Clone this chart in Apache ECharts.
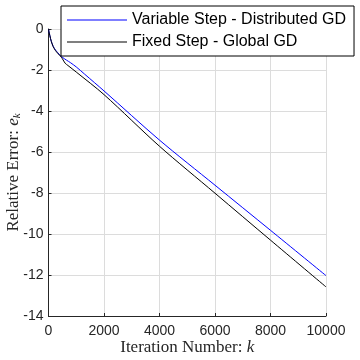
<!DOCTYPE html>
<html>
<head>
<meta charset="utf-8">
<script src="https://cdn.jsdelivr.net/npm/echarts@6/dist/echarts.min.js"></script>
<style>html,body{margin:0;padding:0;background:#fff;}#c{width:360px;height:360px;}</style>
</head>
<body>
<div id="c"></div>
<script>
const seriesNames = ['Variable Step - Distributed GD', 'Fixed Step - Global GD'];
const xTicks = [0, 2000, 4000, 6000, 8000, 10000];
const yTicks = [-14, -12, -10, -8, -6, -4, -2, 0];
const variableK = [0, 20, 50, 100, 170, 250, 330, 420, 520, 650, 800, 1000, 1300, 2000, 4000, 6000, 8000, 10000];
const variableE = [0, -0.15, -0.33, -0.6, -0.85, -1.02, -1.15, -1.29, -1.4, -1.52, -1.65, -1.85, -2.2, -3.02, -5.42, -7.62, -9.82, -12.03];
const fixedK = [0, 20, 50, 100, 170, 250, 330, 420, 500, 600, 700, 1000, 2000, 4000, 6000, 8000, 10000];
const fixedE = [0, -0.15, -0.33, -0.6, -0.86, -1.05, -1.18, -1.31, -1.45, -1.67, -1.78, -2.1, -3.2, -5.72, -8.01, -10.3, -12.58];

const chart = echarts.init(document.getElementById('c'), null, {renderer: 'canvas'});
const axisColor = '#262626';
const tickFont = {fontFamily: 'Liberation Sans', fontSize: 14, color: axisColor};
const nameFont = 17;
chart.setOption({
  animation: false,
  backgroundColor: '#fff',
  grid: {left: 48.5, right: 34, top: 29, bottom: 44, containLabel: false, outerBoundsMode: 'none'},
  legend: {
    left: 61, top: 6, orient: 'vertical',
    data: seriesNames,
    backgroundColor: '#fff', borderColor: '#000', borderWidth: 1, borderRadius: 0,
    padding: [6, 8, 6, 6], itemGap: 6, itemWidth: 60, itemHeight: 16,
    icon: 'path://M0,7.5 L60,7.5 L60,8.5 L0,8.5 Z',
    textStyle: {fontFamily: 'Liberation Sans', fontSize: 16, color: '#000'}
  },
  xAxis: {
    type: 'value', min: xTicks[0], max: xTicks[xTicks.length - 1], interval: 2000,
    name: 'Iteration Number: {i|k}', nameLocation: 'middle', nameGap: 23, nameMoveOverlap: false,
    nameTextStyle: {fontFamily: 'Liberation Serif', fontSize: nameFont, color: axisColor,
      rich: {i: {fontFamily: 'Liberation Serif', fontStyle: 'italic', fontSize: nameFont, color: axisColor}}},
    axisLine: {show: true, onZero: false, lineStyle: {color: axisColor, width: 1}},
    axisTick: {show: true, inside: true, length: 3, lineStyle: {color: axisColor}},
    axisLabel: Object.assign({margin: 8, formatter: v => String(v)}, tickFont),
    splitLine: {show: true, lineStyle: {color: '#dcdcdc', width: 1}}
  },
  yAxis: {
    type: 'value', min: yTicks[0], max: yTicks[yTicks.length - 1], interval: 2,
    name: 'Relative Error: {i|e}{s|k}', nameLocation: 'middle', nameGap: 26, nameMoveOverlap: false,
    nameTextStyle: {fontFamily: 'Liberation Serif', fontSize: nameFont, color: axisColor,
      rich: {i: {fontFamily: 'Liberation Serif', fontStyle: 'italic', fontSize: nameFont, color: axisColor},
             s: {fontFamily: 'Liberation Serif', fontStyle: 'italic', fontSize: 11, color: axisColor, padding: [7, 0, 0, 0]}}},
    axisLine: {show: true, onZero: false, lineStyle: {color: axisColor, width: 1}},
    axisTick: {show: true, inside: true, length: 3, lineStyle: {color: axisColor}},
    axisLabel: Object.assign({margin: 5}, tickFont),
    splitLine: {show: true, lineStyle: {color: '#dcdcdc', width: 1}}
  },
  series: [
    {name: seriesNames[0], type: 'line', showSymbol: false, symbol: 'none', smooth: 0.3,
      lineStyle: {color: '#0000ff', width: 1}, itemStyle: {color: '#0000ff'},
      data: variableK.map((k, i) => [k, variableE[i]])},
    {name: seriesNames[1], type: 'line', showSymbol: false, symbol: 'none', smooth: 0.3,
      lineStyle: {color: '#000000', width: 1}, itemStyle: {color: '#000000'},
      data: fixedK.map((k, i) => [k, fixedE[i]])}
  ]
});
</script>
</body>
</html>
